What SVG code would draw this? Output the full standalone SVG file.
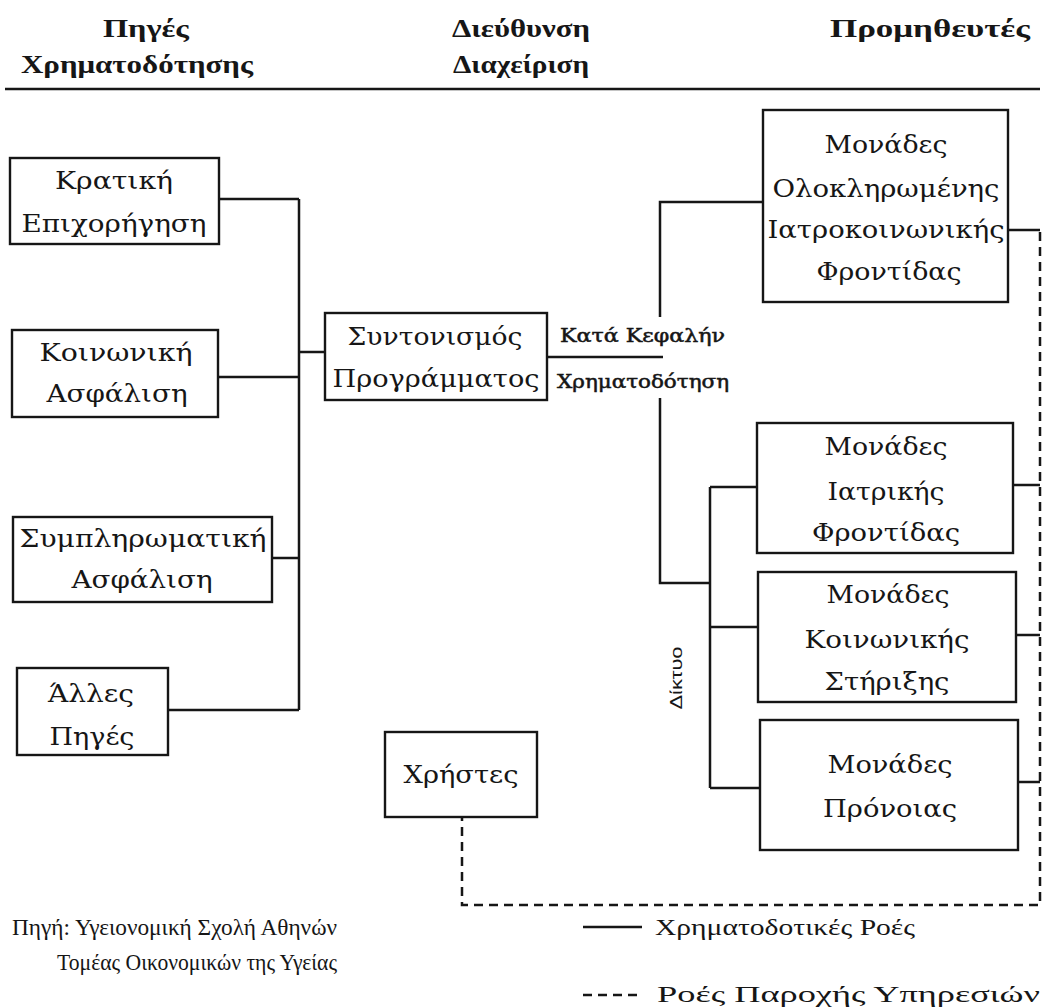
<svg xmlns="http://www.w3.org/2000/svg" width="1044" height="1008" viewBox="0 0 1044 1008">
<style>
.bg{fill:#ffffff}
.box{fill:#ffffff;stroke:#161616;stroke-width:2.4}
.lbl{font-family:"DejaVu Serif","Liberation Serif",serif;font-size:24px;fill:#161616;text-anchor:middle}
.hdr{font-family:"Liberation Serif","DejaVu Serif",serif;font-size:25px;font-weight:bold;fill:#161616;text-anchor:middle}
.mid{font-family:"DejaVu Serif","Liberation Serif",serif;font-size:18px;fill:#161616;stroke:#161616;stroke-width:0.5}
.net{font-family:"Liberation Sans","DejaVu Sans",sans-serif;font-size:17px;fill:#161616;text-anchor:middle}
.foot{font-family:"Liberation Serif","DejaVu Serif",serif;font-size:23px;fill:#161616}
.conn{fill:none;stroke:#161616;stroke-width:2.5}
.dash{fill:none;stroke:#161616;stroke-width:2.5;stroke-dasharray:9 6}
</style>
<rect class="bg" x="0" y="0" width="1044" height="1008"/>

<g id="header">
  <text class="hdr" x="146" y="37" textLength="86" lengthAdjust="spacingAndGlyphs">Πηγές</text>
  <text class="hdr" x="137" y="73" textLength="232" lengthAdjust="spacingAndGlyphs">Χρηματοδότησης</text>
  <text class="hdr" x="521" y="37" textLength="138" lengthAdjust="spacingAndGlyphs">Διεύθυνση</text>
  <text class="hdr" x="521" y="73" textLength="136" lengthAdjust="spacingAndGlyphs">Διαχείριση</text>
  <text class="hdr" x="930" y="37" textLength="200" lengthAdjust="spacingAndGlyphs">Προμηθευτές</text>
  <path class="conn" d="M5 89 H1040" stroke-width="3"/>
</g>

<g id="connectors">
  <path class="conn" d="M219 199 H299 M218 377 H299 M272 558 H299 M168 710 H299 M299 199 V710 M299 352 H325"/>
  <path class="conn" d="M547 357 H663 M660 317 V202 H763 M660 398 V583 H710"/>
  <path class="conn" d="M710 487 V788 M710 487 H757 M710 627 H758 M710 788 H760"/>
  <path class="conn" d="M1008 230 H1040 M1013 485 H1040 M1016 635 H1040 M1018 782 H1040"/>
  <path class="dash" d="M1040 232 V905 H462 V817"/>
</g>

<g id="n-kratiki">
  <rect class="box" x="10" y="158" width="209" height="86"/>
  <text class="lbl" x="114" y="189" textLength="118" lengthAdjust="spacingAndGlyphs">Κρατική</text>
  <text class="lbl" x="114" y="232" textLength="185" lengthAdjust="spacingAndGlyphs">Επιχορήγηση</text>
</g>
<g id="n-koinoniki">
  <rect class="box" x="12" y="330" width="206" height="87"/>
  <text class="lbl" x="116" y="361" textLength="153" lengthAdjust="spacingAndGlyphs">Κοινωνική</text>
  <text class="lbl" x="117" y="402" textLength="141" lengthAdjust="spacingAndGlyphs">Ασφάλιση</text>
</g>
<g id="n-symplirom">
  <rect class="box" x="13" y="517" width="259" height="85"/>
  <text class="lbl" x="143" y="547" textLength="247" lengthAdjust="spacingAndGlyphs">Συμπληρωματική</text>
  <text class="lbl" x="142" y="588" textLength="141" lengthAdjust="spacingAndGlyphs">Ασφάλιση</text>
</g>
<g id="n-alles">
  <rect class="box" x="17" y="668" width="151" height="87"/>
  <text class="lbl" x="91" y="702" textLength="86" lengthAdjust="spacingAndGlyphs">Άλλες</text>
  <text class="lbl" x="92" y="745" textLength="85" lengthAdjust="spacingAndGlyphs">Πηγές</text>
</g>
<g id="n-syntonismos">
  <rect class="box" x="325" y="313" width="222" height="87"/>
  <text class="lbl" x="435" y="345" textLength="175" lengthAdjust="spacingAndGlyphs">Συντονισμός</text>
  <text class="lbl" x="436" y="387" textLength="207" lengthAdjust="spacingAndGlyphs">Προγράμματος</text>
</g>
<g id="l-kefali">
  <text class="mid" x="560" y="342" textLength="165" lengthAdjust="spacingAndGlyphs">Κατά Κεφαλήν</text>
  <text class="mid" x="557" y="388" textLength="172" lengthAdjust="spacingAndGlyphs">Χρηματοδότηση</text>
</g>
<g id="n-oloklir">
  <rect class="box" x="763" y="110" width="245" height="192"/>
  <text class="lbl" x="886" y="153" textLength="123" lengthAdjust="spacingAndGlyphs">Μονάδες</text>
  <text class="lbl" x="886" y="197" textLength="227" lengthAdjust="spacingAndGlyphs">Ολοκληρωμένης</text>
  <text class="lbl" x="886" y="238" textLength="237" lengthAdjust="spacingAndGlyphs">Ιατροκοινωνικής</text>
  <text class="lbl" x="889" y="280" textLength="145" lengthAdjust="spacingAndGlyphs">Φροντίδας</text>
</g>
<g id="n-iatriki">
  <rect class="box" x="757" y="423" width="256" height="130"/>
  <text class="lbl" x="886" y="455" textLength="123" lengthAdjust="spacingAndGlyphs">Μονάδες</text>
  <text class="lbl" x="886" y="500" textLength="117" lengthAdjust="spacingAndGlyphs">Ιατρικής</text>
  <text class="lbl" x="886" y="541" textLength="148" lengthAdjust="spacingAndGlyphs">Φροντίδας</text>
</g>
<g id="n-koin-stirixi">
  <rect class="box" x="758" y="572" width="258" height="130"/>
  <text class="lbl" x="888" y="603" textLength="123" lengthAdjust="spacingAndGlyphs">Μονάδες</text>
  <text class="lbl" x="887" y="648" textLength="165" lengthAdjust="spacingAndGlyphs">Κοινωνικής</text>
  <text class="lbl" x="887" y="690" textLength="125" lengthAdjust="spacingAndGlyphs">Στήριξης</text>
</g>
<g id="n-pronoia">
  <rect class="box" x="760" y="720" width="258" height="130"/>
  <text class="lbl" x="890" y="773" textLength="125" lengthAdjust="spacingAndGlyphs">Μονάδες</text>
  <text class="lbl" x="890" y="817" textLength="134" lengthAdjust="spacingAndGlyphs">Πρόνοιας</text>
</g>
<g id="l-diktyo">
  <text class="net" x="676" y="678" transform="rotate(-90 676 678)" dy="6" textLength="63" lengthAdjust="spacingAndGlyphs">Δίκτυο</text>
</g>
<g id="n-xristes">
  <rect class="box" x="385" y="732" width="152" height="85"/>
  <text class="lbl" x="461" y="783" textLength="115" lengthAdjust="spacingAndGlyphs">Χρήστες</text>
</g>

<g id="footer">
  <text class="foot" x="12" y="935" textLength="325" lengthAdjust="spacingAndGlyphs">Πηγή: Υγειονομική Σχολή Αθηνών</text>
  <text class="foot" x="57" y="970" textLength="280" lengthAdjust="spacingAndGlyphs">Τομέας Οικονομικών της Υγείας</text>
</g>
<g id="legend">
  <path class="conn" d="M583 927 H642" stroke-width="2"/>
  <text class="foot" x="655" y="935" textLength="260" lengthAdjust="spacingAndGlyphs">Χρηματοδοτικές Ροές</text>
  <path class="dash" d="M583 995 H642" stroke-width="2" stroke-dasharray="6 4"/>
  <text class="foot" x="657" y="1002" textLength="383" lengthAdjust="spacingAndGlyphs">Ροές Παροχής Υπηρεσιών</text>
</g>
</svg>
